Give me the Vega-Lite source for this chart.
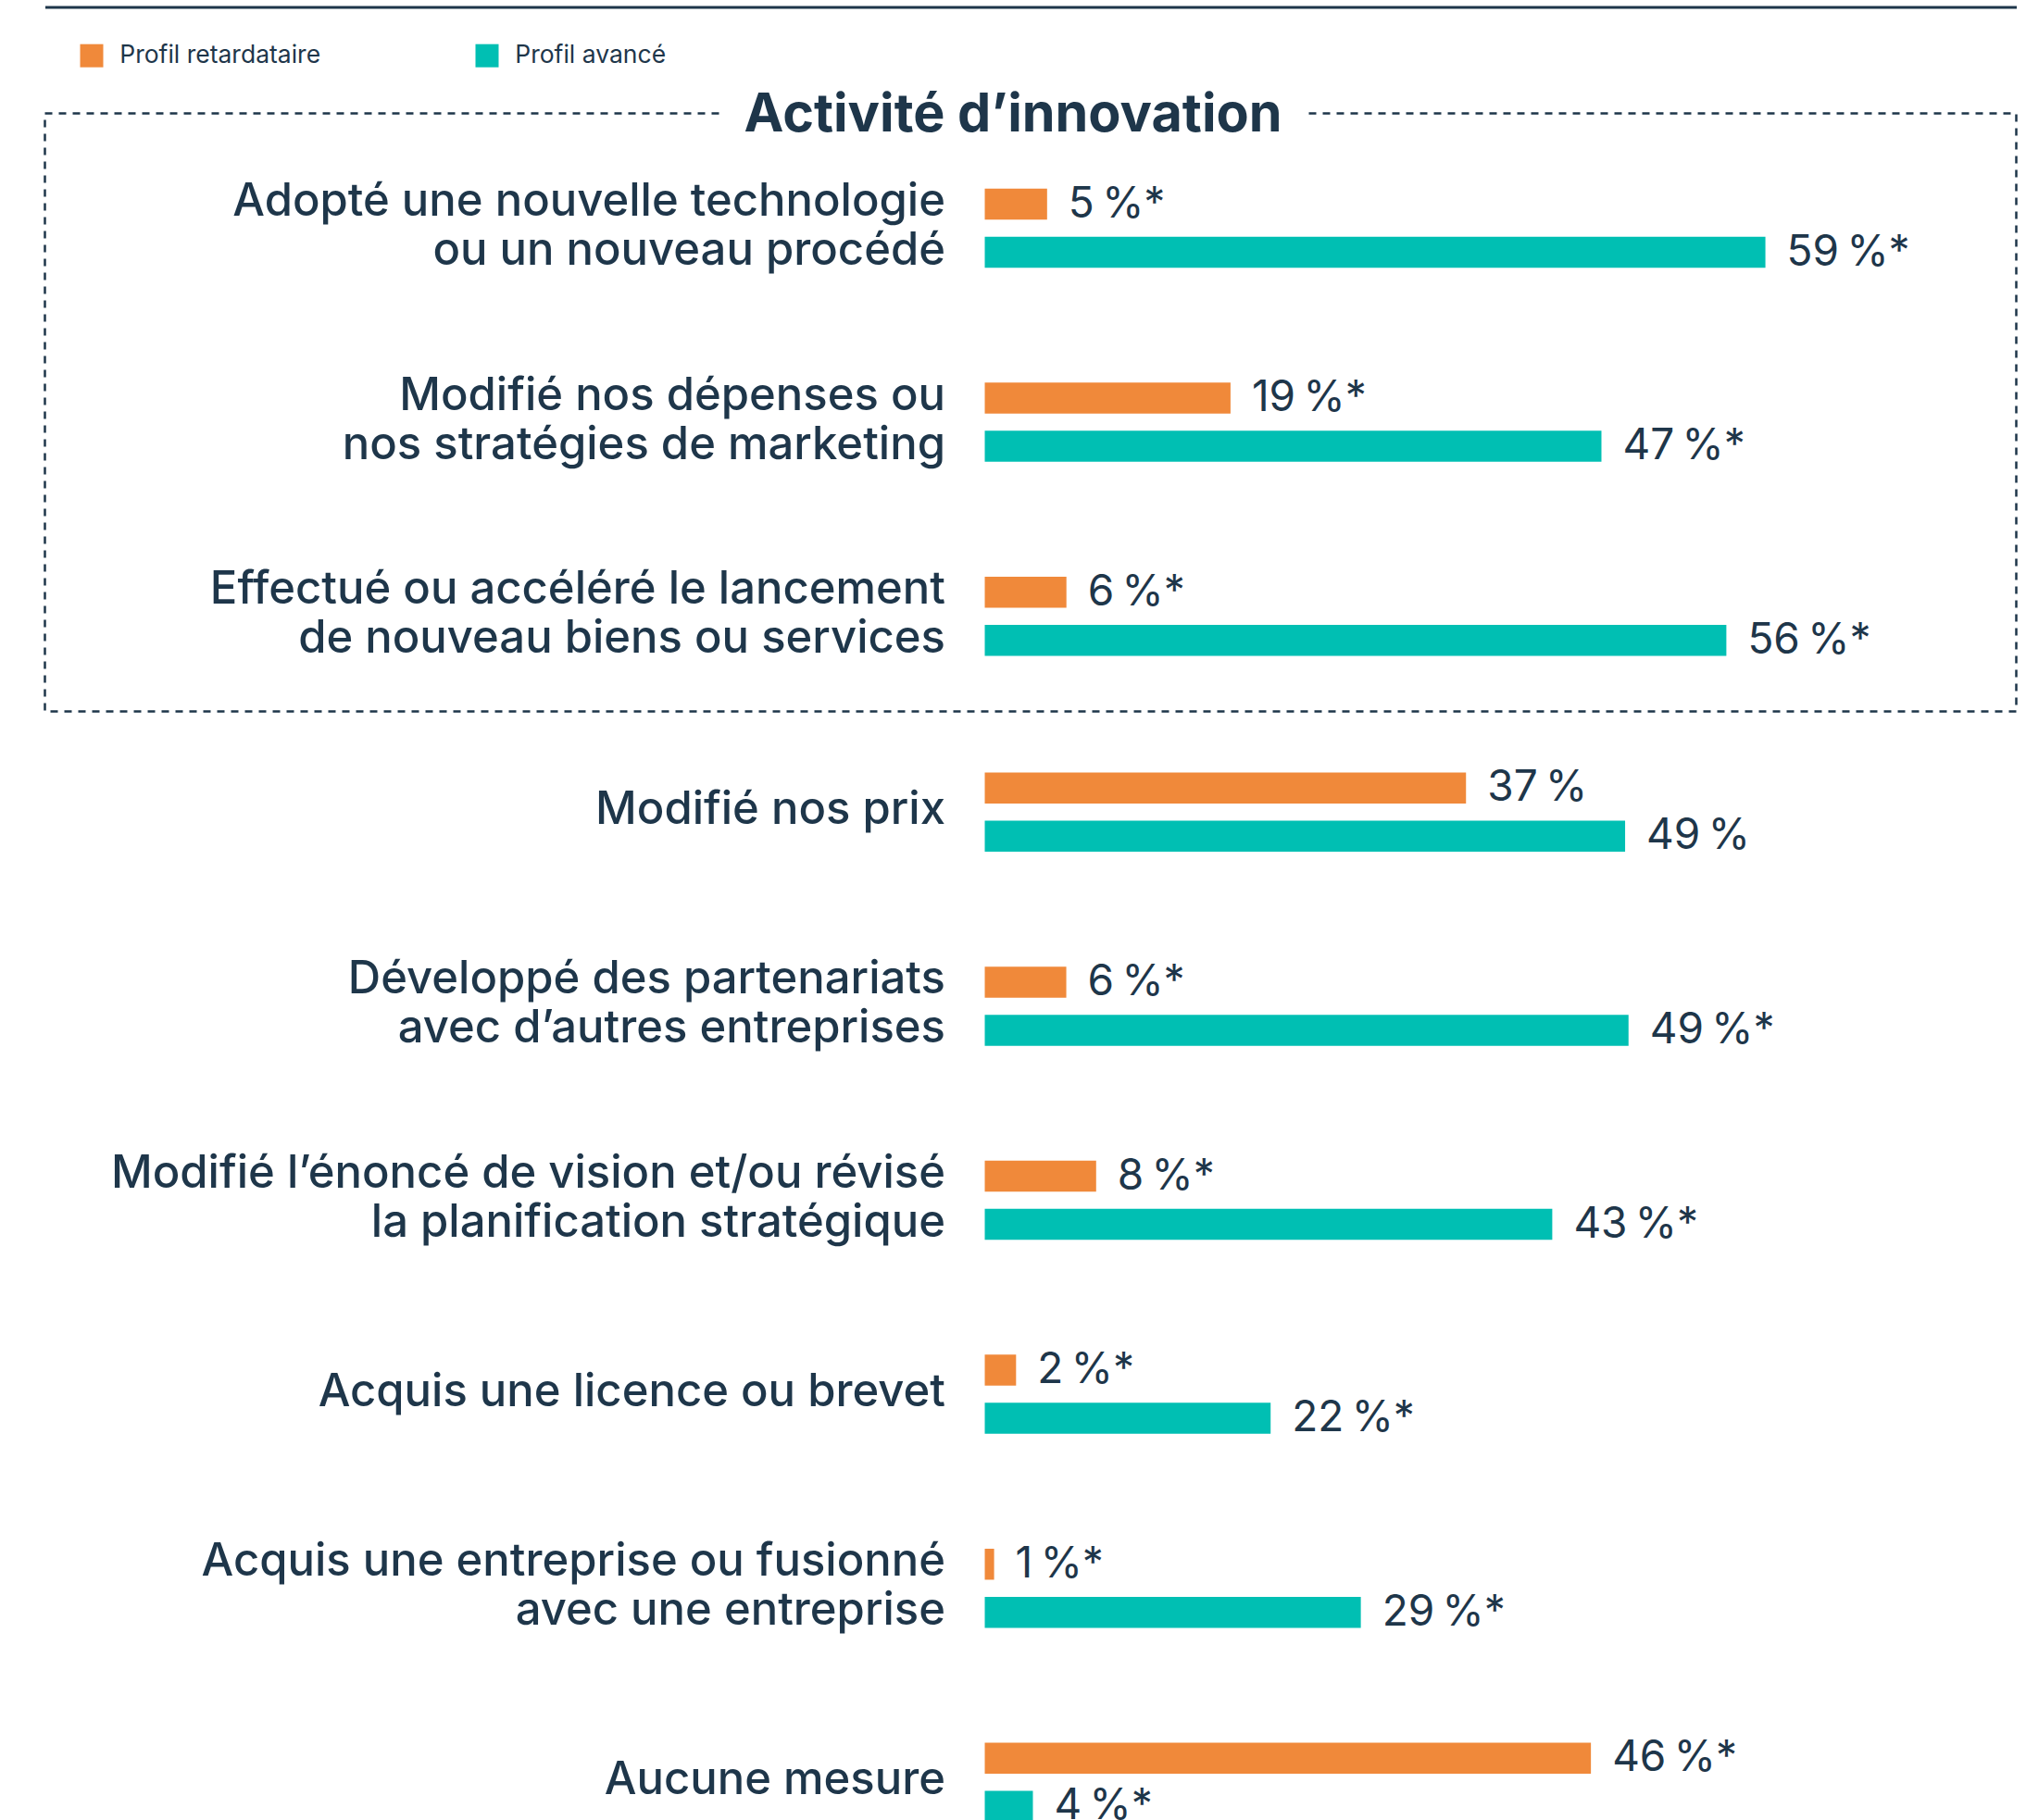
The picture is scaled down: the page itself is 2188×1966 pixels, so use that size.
{
  "$schema": "https://vega.github.io/schema/vega-lite/v6.json",
  "autosize": {"type": "pad"},
  "padding": {"left": 46.5, "top": 5.5, "right": 0, "bottom": 0},
  "background": "white",
  "datasets": {
    "innovation": [
      {"categorie": "Adopté une nouvelle technologie|ou un nouveau procédé", "profil": "Profil retardataire", "valeur": 4.74, "etiquette": "5\u202f%*"},
      {"categorie": "Adopté une nouvelle technologie|ou un nouveau procédé", "profil": "Profil avancé", "valeur": 59.37, "etiquette": "59\u202f%*"},
      {"categorie": "Modifié nos dépenses ou|nos stratégies de marketing", "profil": "Profil retardataire", "valeur": 18.69, "etiquette": "19\u202f%*"},
      {"categorie": "Modifié nos dépenses ou|nos stratégies de marketing", "profil": "Profil avancé", "valeur": 46.9, "etiquette": "47\u202f%*"},
      {"categorie": "Effectué ou accéléré le lancement|de nouveau biens ou services", "profil": "Profil retardataire", "valeur": 6.21, "etiquette": "6\u202f%*"},
      {"categorie": "Effectué ou accéléré le lancement|de nouveau biens ou services", "profil": "Profil avancé", "valeur": 56.4, "etiquette": "56\u202f%*"}
    ],
    "autres": [
      {"categorie": "Modifié nos prix", "profil": "Profil retardataire", "valeur": 36.6, "etiquette": "37\u202f%"},
      {"categorie": "Modifié nos prix", "profil": "Profil avancé", "valeur": 48.7, "etiquette": "49\u202f%"},
      {"categorie": "Développé des partenariats|avec d’autres entreprises", "profil": "Profil retardataire", "valeur": 6.2, "etiquette": "6\u202f%*"},
      {"categorie": "Développé des partenariats|avec d’autres entreprises", "profil": "Profil avancé", "valeur": 48.96, "etiquette": "49\u202f%*"},
      {"categorie": "Modifié l’énoncé de vision et/ou révisé|la planification stratégique", "profil": "Profil retardataire", "valeur": 8.47, "etiquette": "8\u202f%*"},
      {"categorie": "Modifié l’énoncé de vision et/ou révisé|la planification stratégique", "profil": "Profil avancé", "valeur": 43.16, "etiquette": "43\u202f%*"},
      {"categorie": "Acquis une licence ou brevet", "profil": "Profil retardataire", "valeur": 2.38, "etiquette": "2\u202f%*"},
      {"categorie": "Acquis une licence ou brevet", "profil": "Profil avancé", "valeur": 21.74, "etiquette": "22\u202f%*"},
      {"categorie": "Acquis une entreprise ou fusionné|avec une entreprise", "profil": "Profil retardataire", "valeur": 0.71, "etiquette": "1\u202f%*"},
      {"categorie": "Acquis une entreprise ou fusionné|avec une entreprise", "profil": "Profil avancé", "valeur": 28.6, "etiquette": "29\u202f%*"},
      {"categorie": "Aucune mesure", "profil": "Profil retardataire", "valeur": 46.1, "etiquette": "46\u202f%*"},
      {"categorie": "Aucune mesure", "profil": "Profil avancé", "valeur": 3.66, "etiquette": "4\u202f%*"}
    ]
  },
  "spacing": 0,
  "vconcat": [
    {
      "width": 2129,
      "height": 646,
      "view": {"stroke": "#1e364a", "strokeWidth": 2.5, "strokeDash": [8, 7]},
      "layer": [
        {
          "data": {"name": "innovation"},
          "mark": {"type": "bar"},
          "encoding": {
            "y": {"field": "categorie", "type": "nominal", "sort": null,
              "scale": {"paddingInner": 0, "paddingOuter": 0.041, "align": 1},
              "axis": {"title": null, "orient": "left", "offset": -972, "domain": false, "ticks": false, "tickSize": 0, "labelPadding": 0,
                "labelExpr": "split(datum.label, '|')", "labelFont": "Inter", "labelFontSize": 49, "labelFontWeight": 500,
                "labelColor": "#1e364a", "labelLineHeight": 53, "labelLimit": 1500, "labelAlign": "right", "labelBaseline": "middle", "grid": false,
                "labelOffset": {"condition": {"test": "indexof(datum.value, '|') >= 0", "value": -26.5}, "value": 0}}},
            "yOffset": {"field": "profil", "type": "nominal",
              "scale": {"domain": ["_avant", "Profil retardataire", "Profil avancé", "_après"], "paddingInner": 0.356, "paddingOuter": 0.1934, "align": 0.6}},
            "x": {"field": "valeur", "type": "quantitative",
              "scale": {"domain": [-71.48, 78.45], "nice": false, "zero": false},
              "axis": {"orient": "top", "offset": 115, "domain": true, "domainColor": "#1e364a", "domainWidth": 3, "ticks": false, "labels": false, "grid": false, "title": null}},
            "x2": {"datum": 0},
            "color": {"field": "profil", "type": "nominal",
              "scale": {"domain": ["Profil retardataire", "Profil avancé"], "range": ["#f0893a", "#00bfb3"]},
              "legend": {"title": null, "orient": "none", "legendX": 37.25, "legendY": -75.7, "direction": "horizontal",
                "symbolType": "square", "symbolSize": 625, "symbolStrokeWidth": 0, "labelFont": "Inter", "labelFontSize": 26.5,
                "labelColor": "#1e364a", "labelOffset": 17, "labelLimit": 500, "columnPadding": 166, "padding": 0}}
          }
        },
        {
          "data": {"name": "innovation"},
          "mark": {"type": "text", "align": "left", "baseline": "middle", "dx": 23, "font": "Inter", "fontSize": 46, "color": "#1e364a"},
          "encoding": {
            "y": {"field": "categorie", "type": "nominal", "sort": null},
            "yOffset": {"field": "profil", "type": "nominal"},
            "x": {"field": "valeur", "type": "quantitative"},
            "text": {"field": "etiquette"}
          }
        },
        {
          "data": {"values": [{"titre": "Activité d’innovation"}]},
          "mark": {"type": "text", "align": "center", "baseline": "alphabetic", "dy": 2, "font": "Inter", "fontSize": 57.5, "fontWeight": 700,
            "fill": "white", "stroke": "white", "strokeWidth": 64, "strokeJoin": "round"},
          "encoding": {
            "x": {"datum": 2.15, "type": "quantitative"},
            "y": {"datum": "Adopté une nouvelle technologie|ou un nouveau procédé", "type": "nominal", "bandPosition": 0},
            "text": {"field": "titre"}
          }
        },
        {
          "data": {"values": [{"titre": "Activité d’innovation"}]},
          "mark": {"type": "text", "align": "center", "baseline": "alphabetic", "dy": 2, "font": "Inter", "fontSize": 57.5, "fontWeight": 700, "color": "#1e364a"},
          "encoding": {
            "x": {"datum": 2.15, "type": "quantitative"},
            "y": {"datum": "Adopté une nouvelle technologie|ou un nouveau procédé", "type": "nominal", "bandPosition": 0},
            "text": {"field": "titre"}
          }
        }
      ]
    },
    {
      "width": 2129,
      "height": 1257.6,
      "view": {"stroke": null},
      "layer": [
        {
          "data": {"name": "autres"},
          "mark": {"type": "bar"},
          "encoding": {
            "y": {"field": "categorie", "type": "nominal", "sort": null,
              "scale": {"paddingInner": 0, "paddingOuter": 0},
              "axis": {"title": null, "orient": "left", "offset": -972, "domain": false, "ticks": false, "tickSize": 0, "labelPadding": 0,
                "labelExpr": "split(datum.label, '|')", "labelFont": "Inter", "labelFontSize": 49, "labelFontWeight": 500,
                "labelColor": "#1e364a", "labelLineHeight": 53, "labelLimit": 1500, "labelAlign": "right", "labelBaseline": "middle", "grid": false,
                "labelOffset": {"condition": {"test": "indexof(datum.value, '|') >= 0", "value": -26.5}, "value": 0}}},
            "yOffset": {"field": "profil", "type": "nominal",
              "scale": {"domain": ["_avant", "Profil retardataire", "Profil avancé", "_après"], "paddingInner": 0.356, "paddingOuter": 0.1934, "align": 0.6}},
            "x": {"field": "valeur", "type": "quantitative",
              "scale": {"domain": [-71.48, 78.45], "nice": false, "zero": false}, "axis": null},
            "x2": {"datum": 0},
            "color": {"field": "profil", "type": "nominal",
              "scale": {"domain": ["Profil retardataire", "Profil avancé"], "range": ["#f0893a", "#00bfb3"]}}
          }
        },
        {
          "data": {"name": "autres"},
          "mark": {"type": "text", "align": "left", "baseline": "middle", "dx": 23, "font": "Inter", "fontSize": 46, "color": "#1e364a"},
          "encoding": {
            "y": {"field": "categorie", "type": "nominal", "sort": null},
            "yOffset": {"field": "profil", "type": "nominal"},
            "x": {"field": "valeur", "type": "quantitative"},
            "text": {"field": "etiquette"}
          }
        }
      ]
    }
  ],
  "resolve": {"scale": {"x": "independent", "y": "independent", "yOffset": "independent", "color": "shared"}},
  "config": {"view": {"stroke": null}, "font": "Inter"}
}
